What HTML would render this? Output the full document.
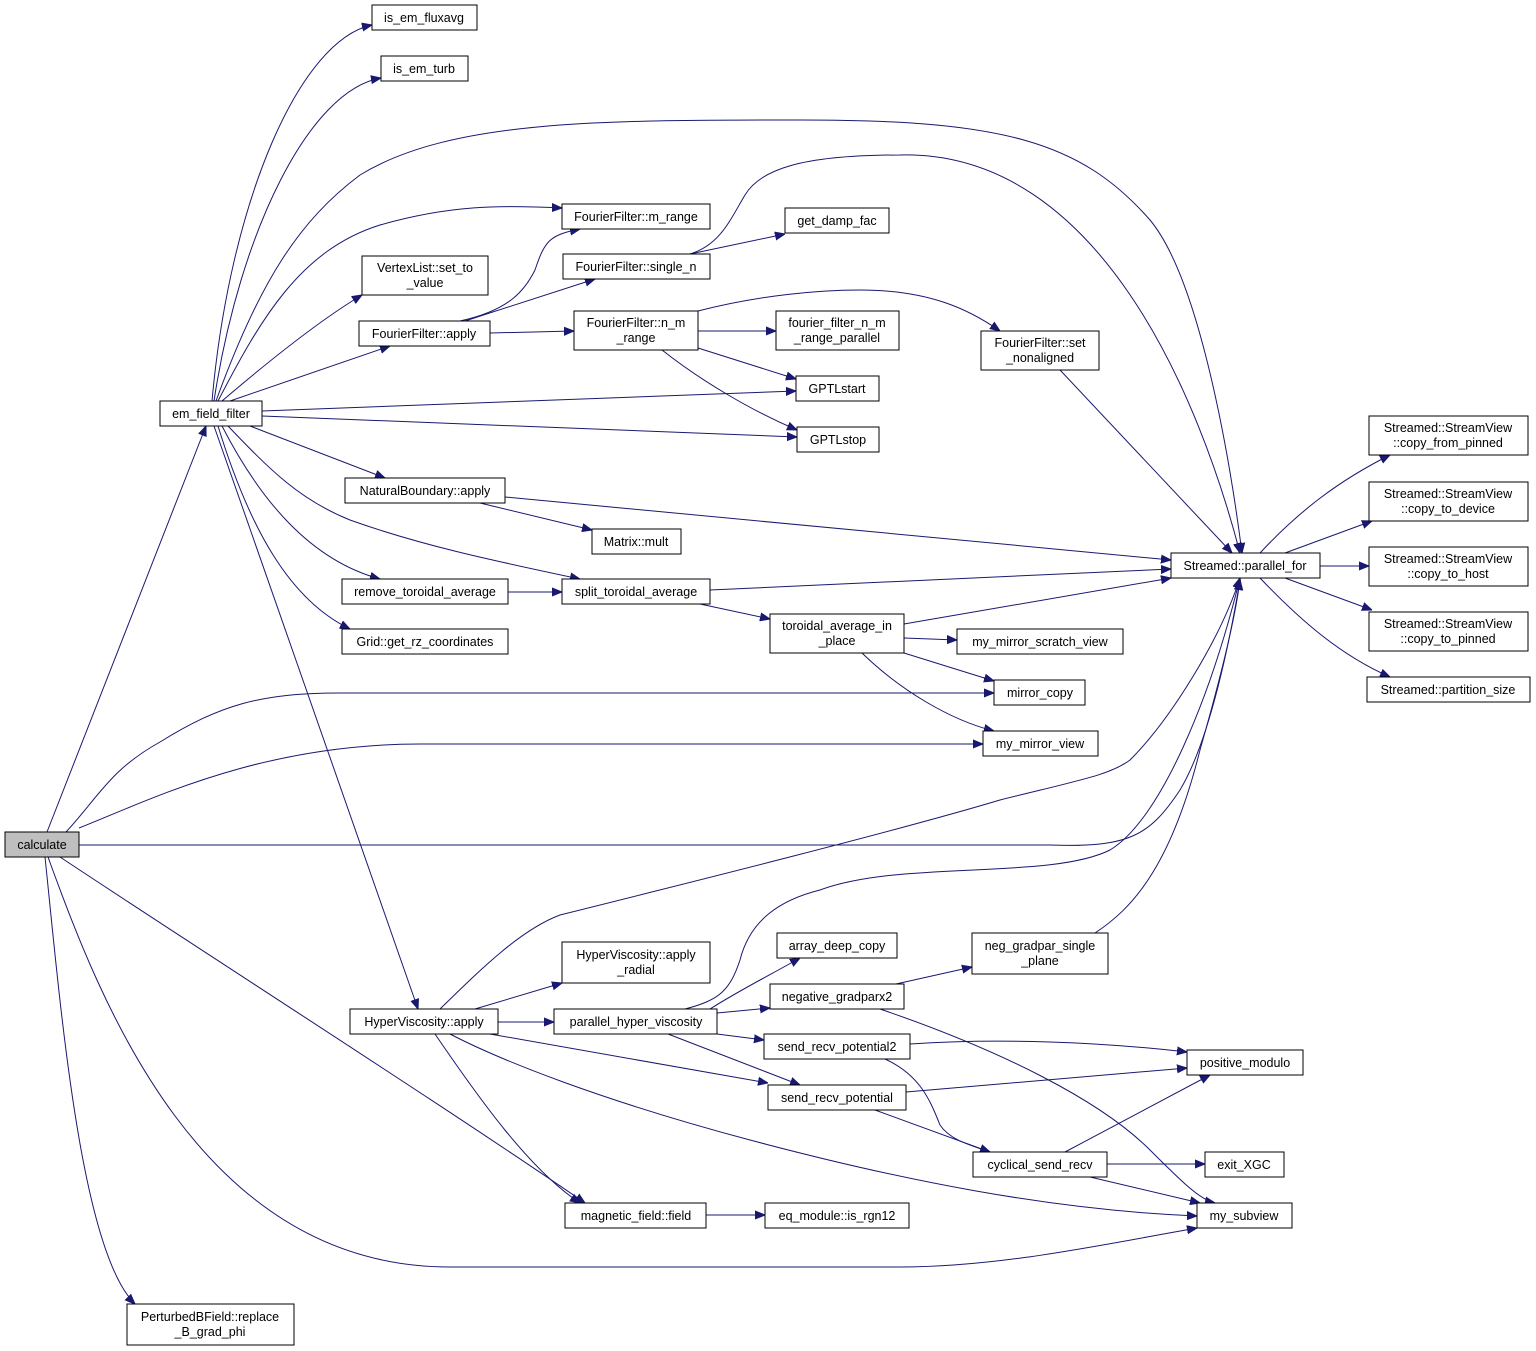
<!DOCTYPE html>
<html><head><meta charset="utf-8"><style>
html,body{margin:0;padding:0;background:#fff}
svg{display:block}
text{font-family:"Liberation Sans",Arial,sans-serif;font-size:12.5px;fill:#000;text-anchor:middle}
.n{fill:#fff;stroke:#000;stroke-width:1}
.e{fill:none;stroke:#191970;stroke-width:1}
</style></head><body>
<svg width="1536" height="1351" viewBox="0 0 1536 1351" xmlns="http://www.w3.org/2000/svg">
<defs><marker id="a" viewBox="0 0 10 10" refX="10" refY="5" markerWidth="10" markerHeight="10" markerUnits="userSpaceOnUse" orient="auto"><path d="M0,1 L10,5 L0,9 z" fill="#191970" stroke="#191970"/></marker></defs>
<g class="e" marker-end="url(#a)">
<path d="M47,832 L206,426"/>
<path d="M66,832 C100,795 110,770 160,742 C220,705 260,693 340,693 L994,693"/>
<path d="M79,828 C150,800 260,744 420,744 L983,744"/>
<path d="M79,845 L1050,845 C1130,848 1150,835 1180,790 C1210,740 1230,640 1240,580"/>
<path d="M60,857 C200,950 450,1110 585,1203"/>
<path d="M48,857 C100,1000 200,1267 450,1267 L900,1267 C1000,1267 1100,1245 1197,1228"/>
<path d="M45,857 C60,1000 80,1250 135,1304"/>
<path d="M212,401 C230,200 300,40 372,25"/>
<path d="M214,401 C240,230 310,90 381,78"/>
<path d="M216,401 C260,280 300,220 360,175 C450,120 600,120 800,120 C1000,120 1080,140 1150,220 C1200,280 1230,460 1242,553"/>
<path d="M218,401 C260,320 300,250 380,225 C450,205 500,205 562,208"/>
<path d="M222,401 C270,360 320,320 362,295"/>
<path d="M230,401 L390,346"/>
<path d="M262,411 L796,391"/>
<path d="M262,416 L797,437"/>
<path d="M250,426 L385,478"/>
<path d="M228,426 C270,470 300,500 350,520 C420,545 490,560 580,579"/>
<path d="M222,426 C260,500 310,560 380,579"/>
<path d="M218,426 C250,530 290,600 350,629"/>
<path d="M214,426 L418,1009"/>
<path d="M460,321 C510,310 525,290 535,270 C545,240 550,235 580,229"/>
<path d="M465,321 L595,279"/>
<path d="M490,333 L574,331"/>
<path d="M690,254 L785,234"/>
<path d="M690,254 C720,245 730,220 745,195 C760,170 800,155 900,155 C1100,150 1200,400 1240,553"/>
<path d="M698,331 L776,331"/>
<path d="M698,311 C760,295 820,290 860,290 C930,290 970,310 1000,331"/>
<path d="M698,348 L796,379"/>
<path d="M662,350 C700,380 750,410 797,430"/>
<path d="M1060,370 L1232,553"/>
<path d="M480,503 L592,530"/>
<path d="M505,497 L1171,560"/>
<path d="M508,592 L562,592"/>
<path d="M710,590 L1171,569"/>
<path d="M700,604 L770,619"/>
<path d="M904,624 L1171,578"/>
<path d="M904,638 L957,640"/>
<path d="M904,653 L994,681"/>
<path d="M862,653 C900,690 950,720 994,731"/>
<path d="M1260,553 C1300,510 1340,480 1390,455"/>
<path d="M1285,553 L1372,521"/>
<path d="M1320,566 L1369,566"/>
<path d="M1285,578 L1372,610"/>
<path d="M1260,578 C1300,620 1340,655 1390,677"/>
<path d="M440,1009 C480,970 520,930 560,915 C700,880 900,830 1000,800 C1080,780 1110,775 1130,760 C1170,720 1220,640 1240,578"/>
<path d="M475,1009 L562,983"/>
<path d="M498,1022 L554,1022"/>
<path d="M490,1034 L768,1083"/>
<path d="M450,1034 C500,1060 600,1100 750,1140 C900,1180 1050,1210 1197,1216"/>
<path d="M435,1034 C480,1100 530,1170 580,1203"/>
<path d="M685,1009 C720,1000 730,990 740,960 C750,920 780,900 820,890 C900,860 1050,880 1110,850 C1160,820 1210,700 1240,578"/>
<path d="M710,1009 C740,990 770,975 800,958"/>
<path d="M717,1013 L770,1008"/>
<path d="M717,1034 L764,1040"/>
<path d="M668,1034 L800,1085"/>
<path d="M896,984 L972,967"/>
<path d="M880,1009 C1000,1050 1100,1100 1150,1150 C1180,1180 1200,1200 1215,1203"/>
<path d="M910,1044 C1000,1038 1100,1042 1187,1052"/>
<path d="M885,1059 C920,1075 930,1100 940,1125 C950,1140 970,1145 990,1152"/>
<path d="M906,1092 L1187,1068"/>
<path d="M875,1110 L990,1152"/>
<path d="M1095,933 C1130,910 1170,870 1200,750 C1220,680 1235,620 1240,580"/>
<path d="M1065,1152 L1210,1075"/>
<path d="M1107,1164 L1205,1164"/>
<path d="M1090,1177 L1200,1203"/>
<path d="M706,1215 L765,1215"/>
</g>
<g>
<rect class="n" x="5" y="832" width="74" height="25" style="fill:#bfbfbf"/><text x="42" y="849">calculate</text>
<rect class="n" x="372" y="5" width="105" height="25"/><text x="424" y="22">is_em_fluxavg</text>
<rect class="n" x="381" y="56" width="87" height="25"/><text x="424" y="73">is_em_turb</text>
<rect class="n" x="160" y="401" width="102" height="25"/><text x="211" y="418">em_field_filter</text>
<rect class="n" x="362" y="256" width="126" height="39"/><text x="425" y="272">VertexList::set_to</text><text x="425" y="287">_value</text>
<rect class="n" x="359" y="321" width="131" height="25"/><text x="424" y="338">FourierFilter::apply</text>
<rect class="n" x="562" y="204" width="148" height="25"/><text x="636" y="221">FourierFilter::m_range</text>
<rect class="n" x="563" y="254" width="147" height="25"/><text x="636" y="271">FourierFilter::single_n</text>
<rect class="n" x="785" y="208" width="104" height="25"/><text x="837" y="225">get_damp_fac</text>
<rect class="n" x="574" y="311" width="124" height="39"/><text x="636" y="327">FourierFilter::n_m</text><text x="636" y="342">_range</text>
<rect class="n" x="776" y="311" width="123" height="39"/><text x="837" y="327">fourier_filter_n_m</text><text x="837" y="342">_range_parallel</text>
<rect class="n" x="981" y="331" width="118" height="39"/><text x="1040" y="347">FourierFilter::set</text><text x="1040" y="362">_nonaligned</text>
<rect class="n" x="796" y="376" width="83" height="25"/><text x="837" y="393">GPTLstart</text>
<rect class="n" x="797" y="427" width="82" height="25"/><text x="838" y="444">GPTLstop</text>
<rect class="n" x="345" y="478" width="160" height="25"/><text x="425" y="495">NaturalBoundary::apply</text>
<rect class="n" x="592" y="529" width="89" height="25"/><text x="636" y="546">Matrix::mult</text>
<rect class="n" x="342" y="579" width="166" height="25"/><text x="425" y="596">remove_toroidal_average</text>
<rect class="n" x="562" y="579" width="148" height="25"/><text x="636" y="596">split_toroidal_average</text>
<rect class="n" x="342" y="629" width="166" height="25"/><text x="425" y="646">Grid::get_rz_coordinates</text>
<rect class="n" x="770" y="614" width="134" height="39"/><text x="837" y="630">toroidal_average_in</text><text x="837" y="645">_place</text>
<rect class="n" x="957" y="629" width="166" height="25"/><text x="1040" y="646">my_mirror_scratch_view</text>
<rect class="n" x="994" y="680" width="91" height="25"/><text x="1040" y="697">mirror_copy</text>
<rect class="n" x="983" y="731" width="115" height="25"/><text x="1040" y="748">my_mirror_view</text>
<rect class="n" x="1171" y="553" width="149" height="25"/><text x="1245" y="570">Streamed::parallel_for</text>
<rect class="n" x="1369" y="416" width="159" height="39"/><text x="1448" y="432">Streamed::StreamView</text><text x="1448" y="447">::copy_from_pinned</text>
<rect class="n" x="1369" y="482" width="159" height="39"/><text x="1448" y="498">Streamed::StreamView</text><text x="1448" y="513">::copy_to_device</text>
<rect class="n" x="1369" y="547" width="159" height="39"/><text x="1448" y="563">Streamed::StreamView</text><text x="1448" y="578">::copy_to_host</text>
<rect class="n" x="1369" y="612" width="159" height="39"/><text x="1448" y="628">Streamed::StreamView</text><text x="1448" y="643">::copy_to_pinned</text>
<rect class="n" x="1367" y="677" width="163" height="25"/><text x="1448" y="694">Streamed::partition_size</text>
<rect class="n" x="350" y="1009" width="148" height="25"/><text x="424" y="1026">HyperViscosity::apply</text>
<rect class="n" x="562" y="942" width="148" height="41"/><text x="636" y="959">HyperViscosity::apply</text><text x="636" y="974">_radial</text>
<rect class="n" x="554" y="1009" width="163" height="25"/><text x="636" y="1026">parallel_hyper_viscosity</text>
<rect class="n" x="777" y="933" width="120" height="25"/><text x="837" y="950">array_deep_copy</text>
<rect class="n" x="770" y="984" width="134" height="25"/><text x="837" y="1001">negative_gradparx2</text>
<rect class="n" x="972" y="933" width="136" height="41"/><text x="1040" y="950">neg_gradpar_single</text><text x="1040" y="965">_plane</text>
<rect class="n" x="764" y="1034" width="146" height="25"/><text x="837" y="1051">send_recv_potential2</text>
<rect class="n" x="768" y="1085" width="138" height="25"/><text x="837" y="1102">send_recv_potential</text>
<rect class="n" x="1187" y="1050" width="116" height="25"/><text x="1245" y="1067">positive_modulo</text>
<rect class="n" x="973" y="1152" width="134" height="25"/><text x="1040" y="1169">cyclical_send_recv</text>
<rect class="n" x="1205" y="1152" width="79" height="25"/><text x="1244" y="1169">exit_XGC</text>
<rect class="n" x="565" y="1203" width="141" height="25"/><text x="636" y="1220">magnetic_field::field</text>
<rect class="n" x="765" y="1203" width="144" height="25"/><text x="837" y="1220">eq_module::is_rgn12</text>
<rect class="n" x="1197" y="1203" width="95" height="25"/><text x="1244" y="1220">my_subview</text>
<rect class="n" x="127" y="1304" width="167" height="41"/><text x="210" y="1321">PerturbedBField::replace</text><text x="210" y="1336">_B_grad_phi</text>
</g>
</svg>
</body></html>
